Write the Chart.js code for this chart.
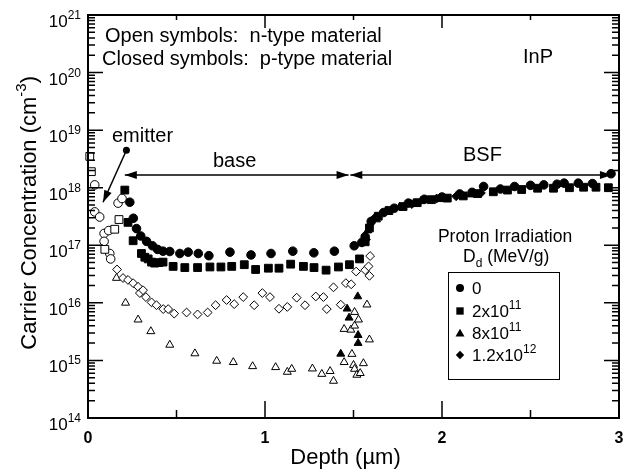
<!DOCTYPE html>
<html lang="en">
<head>
<meta charset="UTF-8">
<title>InP carrier concentration</title>
<script src="https://cdn.jsdelivr.net/npm/chart.js"></script>
<style>
  html, body { margin: 0; padding: 0; background: #fff; }
  canvas { display: block; }
</style>
</head>
<body>
<canvas id="chart" width="630" height="472"></canvas>
<script>
// [depth (um), carrier concentration (cm^-3)]
// closed symbols = p-type, open symbols = n-type
const pDose0 = [
  [0.236, 5.6e17], [0.256, 2.95e17], [0.274, 1.95e17], [0.298, 1.45e17], [0.331, 1.17e17],
  [0.364, 9.8e16], [0.393, 8.5e16], [0.424, 7.9e16], [0.462, 7.8e16], [0.519, 7.2e16],
  [0.566, 7.6e16], [0.623, 7.2e16], [0.683, 6.6e16], [0.802, 7.6e16], [0.921, 6.8e16],
  [1.034, 7.2e16], [1.157, 7.9e16], [1.276, 7.4e16], [1.392, 7.9e16], [1.504, 9.8e16],
  [1.547, 1.12e17], [1.566, 1.41e17], [1.60, 2.6e17], [1.67, 3.7e17], [1.73, 4.4e17],
  [1.81, 5.4e17], [1.90, 6.3e17], [2.00, 6.9e17], [2.10, 7.8e17], [2.17, 8.3e17],
  [2.235, 1.05e18], [2.33, 9.5e17], [2.41, 1.05e18], [2.50, 1.1e18], [2.575, 1.12e18],
  [2.65, 1.15e18], [2.69, 1.2e18], [2.77, 1.2e18], [2.85, 1.18e18], [2.955, 1.75e18]
];
const pDose2e11 = [
  [0.208, 9.1e17], [0.226, 2.5e17], [0.255, 1.2e17], [0.302, 7.2e16], [0.321, 6.2e16],
  [0.340, 5.8e16], [0.359, 5.1e16], [0.377, 4.9e16], [0.400, 5.0e16], [0.424, 5.1e16],
  [0.481, 4.3e16], [0.547, 4.1e16], [0.619, 4.1e16], [0.689, 4.2e16], [0.751, 4.2e16],
  [0.812, 4.3e16], [0.883, 4.6e16], [0.947, 3.8e16], [1.019, 4.0e16], [1.079, 4.0e16],
  [1.145, 4.7e16], [1.217, 4.3e16], [1.277, 4.1e16], [1.345, 3.7e16], [1.415, 4.2e16],
  [1.477, 4.6e16], [1.534, 5.8e16], [1.566, 1.15e17], [1.59, 2.0e17], [1.64, 3.2e17],
  [1.70, 4.0e17], [1.78, 4.7e17], [1.86, 5.5e17], [1.94, 6.2e17], [2.03, 6.6e17],
  [2.12, 7.2e17], [2.20, 7.9e17], [2.29, 8.5e17], [2.37, 9.1e17], [2.45, 9.3e17],
  [2.54, 9.8e17], [2.63, 9.8e17], [2.72, 1.0e18], [2.80, 1.02e18], [2.87, 1.02e18],
  [2.94, 1.0e18]
];
const pDose8e11 = [
  [1.428, 1.3e15], [1.464, 7.9e15], [1.475, 5.5e15], [1.524, 1.29e16], [1.526, 2.75e15],
  [1.526, 2.0e15], [1.58, 1.8e17], [1.63, 2.8e17], [1.76, 4.6e17], [1.88, 5.8e17],
  [2.00, 6.3e17], [2.16, 7.6e17]
];
const pDose12e12 = [
  [1.57, 1.26e17], [1.62, 3.0e17], [1.69, 4.0e17], [1.83, 5.2e17], [1.97, 6.5e17],
  [2.08, 7.1e17], [2.22, 8.1e17]
];
const nDose0 = [
  [0.038, 1.12e18], [0.038, 3.8e17], [0.066, 3.1e17], [0.091, 1.6e17], [0.117, 1.8e17],
  [0.091, 1.17e17], [0.123, 7.2e16], [0.128, 5.8e16], [0.170, 5.4e17], [0.192, 6.5e17]
];
const nDose2e11 = [
  [0.01, 3.5e18], [0.019, 1.9e18], [0.175, 2.8e17], [0.151, 1.9e17], [0.095, 8.5e16]
];
const nDose8e11 = [
  [0.161, 2.7e16], [0.212, 1.0e16], [0.283, 5.1e15], [0.355, 3.2e15], [0.462, 1.86e15],
  [0.604, 1.32e15], [0.727, 9.8e14], [0.821, 9.3e14], [0.930, 7.9e14], [1.060, 7.6e14],
  [1.126, 6.3e14], [1.151, 7.1e14], [1.268, 7.2e14], [1.321, 5.8e14], [1.368, 6.5e14],
  [1.387, 4.4e14], [1.447, 9.3e14], [1.491, 1.29e15], [1.500, 8.3e14], [1.506, 7.1e14],
  [1.519, 5.6e14], [1.538, 6.0e14], [1.556, 8.9e14], [1.447, 3.5e15], [1.485, 3.4e15],
  [1.506, 4.0e15], [1.506, 6.9e15], [1.528, 5.1e15], [1.576, 9.3e15], [1.590, 2.3e15]
];
const nDose12e12 = [
  [0.164, 3.8e16], [0.198, 2.7e16], [0.226, 2.5e16], [0.255, 2.2e16], [0.283, 1.9e16],
  [0.293, 1.48e16], [0.311, 1.66e16], [0.327, 1.26e16], [0.359, 1.02e16], [0.387, 9.1e15],
  [0.425, 7.8e15], [0.453, 7.8e15], [0.487, 6.5e15], [0.557, 6.8e15], [0.619, 6.3e15],
  [0.676, 6.8e15], [0.721, 9.1e15], [0.783, 1.12e16], [0.826, 9.5e15], [0.877, 1.26e16],
  [0.939, 9.1e15], [0.985, 1.48e16], [1.028, 1.26e16], [1.079, 7.9e15], [1.126, 8.5e15],
  [1.179, 1.23e16], [1.226, 9.1e15], [1.287, 1.29e16], [1.330, 1.26e16], [1.349, 7.8e15],
  [1.387, 1.86e16], [1.428, 9.3e15], [1.457, 2.2e16], [1.487, 2.1e16], [1.515, 3.5e16],
  [1.566, 3.7e16], [1.585, 4.3e16], [1.590, 2.95e16], [1.594, 6.5e16]
];

const doseLabels = [['0', ''], ['2x10', '11'], ['8x10', '11'], ['1.2x10', '12']];
const doseStyles = ['circle', 'rect', 'triangle', 'rectRot'];
const yTickPowers = [14, 15, 16, 17, 18, 19, 20, 21];
const xTickLabels = [0, 1, 2, 3];
const xMinorTicks = [0.5, 1.5, 2.5];

// region markers: [x from, x to] at a concentration level
const regionLevel = 1.66e18;
const baseSpan = [0.208, 1.472];
const bsfSpan = [1.482, 2.96];
const emitterArrow = [[0.217, 4.47e18], [0.085, 5.6e17]];

const FONT = "'Liberation Sans', Arial, sans-serif";
const sizes = { circle: 4.3, rect: 5.5, triangle: 4.6, rectRot: 4.4 };

function toPts(arr) { return arr.map(p => ({ x: p[0], y: p[1] })); }

function ds(data, style, open) {
  return {
    data: toPts(data),
    pointStyle: style,
    pointRadius: sizes[style],
    pointHoverRadius: sizes[style],
    pointBackgroundColor: open ? '#fff' : '#000',
    pointBorderColor: '#000',
    pointBorderWidth: 1,
    showLine: false,
    clip: false
  };
}

function supText(ctx, base, sup, x, y, size, align, bold) {
  const w = bold ? 'bold ' : '';
  ctx.font = w + size + 'px ' + FONT;
  const w1 = ctx.measureText(base).width;
  const ss = Math.round(size * 0.7);
  ctx.font = w + ss + 'px ' + FONT;
  const w2 = sup ? ctx.measureText(sup).width : 0;
  let x0 = x;
  if (align === 'right') x0 = x - w1 - w2;
  if (align === 'center') x0 = x - (w1 + w2) / 2;
  ctx.textAlign = 'left';
  ctx.textBaseline = 'alphabetic';
  ctx.font = w + size + 'px ' + FONT;
  ctx.fillText(base, x0, y);
  if (sup) {
    ctx.font = w + ss + 'px ' + FONT;
    ctx.fillText(sup, x0 + w1, y - size * 0.47);
  }
}

function arrowHead(ctx, x1, y1, x2, y2) {
  const a = Math.atan2(y2 - y1, x2 - x1);
  const len = 12, half = 4;
  ctx.beginPath();
  ctx.moveTo(x2, y2);
  ctx.lineTo(x2 - len * Math.cos(a) + half * Math.sin(a), y2 - len * Math.sin(a) - half * Math.cos(a));
  ctx.lineTo(x2 - len * Math.cos(a) - half * Math.sin(a), y2 - len * Math.sin(a) + half * Math.cos(a));
  ctx.closePath();
  ctx.fill();
}

function marker(ctx, style, x, y, r) {
  ctx.beginPath();
  if (style === 'circle') ctx.arc(x, y, r, 0, Math.PI * 2);
  if (style === 'rect') { const s = r * Math.SQRT1_2; ctx.rect(x - s, y - s, 2 * s, 2 * s); }
  if (style === 'triangle') {
    ctx.moveTo(x, y - r);
    ctx.lineTo(x + r * 0.866, y + r * 0.5);
    ctx.lineTo(x - r * 0.866, y + r * 0.5);
    ctx.closePath();
  }
  if (style === 'rectRot') {
    ctx.moveTo(x, y - r); ctx.lineTo(x + r, y); ctx.lineTo(x, y + r); ctx.lineTo(x - r, y);
    ctx.closePath();
  }
  ctx.fill();
}

const framePlugin = {
  id: 'frame',
  afterDraw(chart) {
    const ctx = chart.ctx;
    const xs = chart.scales.x, ys = chart.scales.y;
    const a = chart.chartArea;
    ctx.save();
    ctx.fillStyle = '#000';
    ctx.strokeStyle = '#000';

    // box
    ctx.lineWidth = 2;
    ctx.strokeRect(a.left, a.top, a.right - a.left, a.bottom - a.top);

    // y ticks both sides, inward
    ctx.lineWidth = 1.5;
    ctx.beginPath();
    yTickPowers.forEach(p => {
      const py = ys.getPixelForValue(Math.pow(10, p));
      ctx.moveTo(a.left, py); ctx.lineTo(a.left + 15, py);
      ctx.moveTo(a.right, py); ctx.lineTo(a.right - 15, py);
      if (p < 21) {
        for (let k = 2; k <= 9; k++) {
          const my = ys.getPixelForValue(k * Math.pow(10, p));
          ctx.moveTo(a.left, my); ctx.lineTo(a.left + 7, my);
          ctx.moveTo(a.right, my); ctx.lineTo(a.right - 7, my);
        }
      }
    });
    // x ticks top and bottom
    xTickLabels.forEach(v => {
      const px = xs.getPixelForValue(v);
      ctx.moveTo(px, a.bottom); ctx.lineTo(px, a.bottom - 17);
      ctx.moveTo(px, a.top); ctx.lineTo(px, a.top + 13);
    });
    xMinorTicks.forEach(v => {
      const px = xs.getPixelForValue(v);
      ctx.moveTo(px, a.bottom); ctx.lineTo(px, a.bottom - 8);
      ctx.moveTo(px, a.top); ctx.lineTo(px, a.top + 5);
    });
    ctx.stroke();

    // tick labels
    yTickPowers.forEach(p => {
      const py = ys.getPixelForValue(Math.pow(10, p));
      supText(ctx, '10', String(p), a.left - 7, py + 12, 17, 'right');
    });
    ctx.font = 'bold 16px ' + FONT;
    ctx.textAlign = 'center';
    ctx.textBaseline = 'alphabetic';
    xTickLabels.forEach(v => {
      ctx.fillText(String(v), xs.getPixelForValue(v), a.bottom + 25);
    });

    // axis titles
    ctx.font = '22px ' + FONT;
    ctx.textAlign = 'center';
    ctx.fillText('Depth (\u00b5m)', (a.left + a.right) / 2 - 8, 464);
    ctx.save();
    ctx.translate(36, (a.top + a.bottom) / 2);
    ctx.rotate(-Math.PI / 2);
    supText(ctx, 'Carrier Concentration (cm', '-3', 0, 0, 22, 'center');
    ctx.restore();
    // closing paren after superscript
    ctx.save();
    ctx.translate(36, (a.top + a.bottom) / 2);
    ctx.rotate(-Math.PI / 2);
    ctx.font = '22px ' + FONT;
    const wMain = ctx.measureText('Carrier Concentration (cm').width;
    ctx.font = '15px ' + FONT;
    const wSup = ctx.measureText('-3').width;
    ctx.font = '22px ' + FONT;
    ctx.textAlign = 'left';
    ctx.fillText(')', (wMain + wSup) / 2, 0);
    ctx.restore();

    // notes
    ctx.font = '20px ' + FONT;
    ctx.textAlign = 'left';
    ctx.fillText('Open symbols:  n-type material', a.left + 17, 42);
    ctx.fillText('Closed symbols:  p-type material', a.left + 14, 65);
    ctx.fillText('InP', 523, 63);
    ctx.fillText('emitter', 112, 142);
    ctx.fillText('base', 213, 167);
    ctx.fillText('BSF', 463, 161);

    // region arrows
    ctx.lineWidth = 1.5;
    const ry = ys.getPixelForValue(regionLevel);
    [baseSpan, bsfSpan].forEach(s => {
      const x1 = xs.getPixelForValue(s[0]), x2 = xs.getPixelForValue(s[1]);
      ctx.beginPath(); ctx.moveTo(x1, ry); ctx.lineTo(x2, ry); ctx.stroke();
      arrowHead(ctx, x2, ry, x1, ry);
      arrowHead(ctx, x1, ry, x2, ry);
    });
    const ex1 = xs.getPixelForValue(emitterArrow[0][0]), ey1 = ys.getPixelForValue(emitterArrow[0][1]);
    const ex2 = xs.getPixelForValue(emitterArrow[1][0]), ey2 = ys.getPixelForValue(emitterArrow[1][1]);
    ctx.beginPath(); ctx.moveTo(ex1, ey1); ctx.lineTo(ex2, ey2); ctx.stroke();
    arrowHead(ctx, ex1, ey1, ex2, ey2);
    ctx.beginPath(); ctx.arc(ex1, ey1, 3.5, 0, Math.PI * 2); ctx.fill();

    // legend
    ctx.font = '17.5px ' + FONT;
    ctx.textAlign = 'center';
    ctx.fillText('Proton Irradiation', 505, 242);
    ctx.textAlign = 'left';
    ctx.fillText('D', 463, 262);
    const wD = ctx.measureText('D').width;
    ctx.font = '12px ' + FONT;
    ctx.fillText('d', 463 + wD, 267);
    const wd = ctx.measureText('d').width;
    ctx.font = '17.5px ' + FONT;
    ctx.fillText(' (MeV/g)', 463 + wD + wd, 262);

    ctx.lineWidth = 1;
    ctx.strokeRect(448.5, 272.5, 111, 107);
    const rows = [288, 311, 333, 355];
    const legendR = { circle: 4, rect: 5.2, triangle: 5.2, rectRot: 4.2 };
    doseLabels.forEach((lab, i) => {
      marker(ctx, doseStyles[i], 460, rows[i] + (doseStyles[i] === 'triangle' ? 1 : 0), legendR[doseStyles[i]]);
      supText(ctx, lab[0], lab[1], 472, rows[i] + 6, 17, 'left');
    });
    ctx.restore();
  }
};

new Chart(document.getElementById('chart'), {
  type: 'scatter',
  data: {
    datasets: [
      ds(nDose12e12, 'rectRot', true),
      ds(nDose8e11, 'triangle', true),
      ds(nDose2e11, 'rect', true),
      ds(nDose0, 'circle', true),
      ds(pDose12e12, 'rectRot', false),
      ds(pDose8e11, 'triangle', false),
      ds(pDose2e11, 'rect', false),
      ds(pDose0, 'circle', false)
    ]
  },
  options: {
    responsive: false,
    devicePixelRatio: 1,
    animation: false,
    layout: { padding: { left: 88, right: 11, top: 15, bottom: 54 } },
    plugins: { legend: { display: false }, tooltip: { enabled: false } },
    scales: {
      x: { type: 'linear', min: 0, max: 3, display: false },
      y: { type: 'logarithmic', min: 1e14, max: 1e21, display: false }
    }
  },
  plugins: [framePlugin]
});
</script>
</body>
</html>
